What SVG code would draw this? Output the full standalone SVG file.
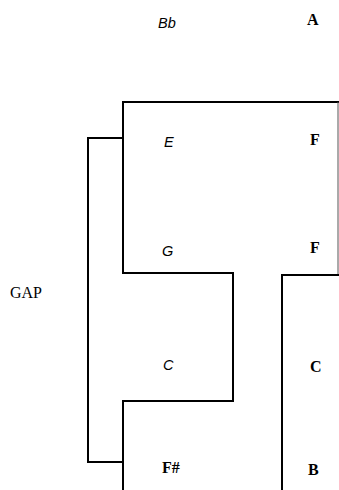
<svg xmlns="http://www.w3.org/2000/svg" width="339" height="490" viewBox="0 0 339 490">
<style>
.ln{fill:none;stroke:#000;stroke-width:2;stroke-linecap:square}
.thin{fill:none;stroke:#555;stroke-width:1}
.it{font-family:"Liberation Sans",Arial,sans-serif;font-style:italic;font-size:14.5px;fill:#000}
.sr{font-family:"Liberation Serif","Times New Roman",serif;font-size:16px;fill:#000}
.bd{font-family:"Liberation Serif","Times New Roman",serif;font-weight:bold;font-size:16px;fill:#000}
</style>
<rect width="339" height="490" fill="#fff"/>
<g id="header">
<text class="it" x="158" y="28" font-size="15.5">Bb</text>
<text class="bd" x="307" y="25">A</text>
</g>
<g id="upper-block">
<path class="ln" d="M123,490 V401 H233 V273 H123 V102 H338"/>
<path class="thin" d="M338,102 V275"/>
<text class="it" x="164" y="147">E</text>
<text class="bd" x="310" y="145">F</text>
<text class="it" x="162" y="256">G</text>
<text class="bd" x="310" y="253">F</text>
<text class="it" x="163" y="370">C</text>
<text class="bd" x="162" y="473">F#</text>
</g>
<g id="right-block">
<path class="ln" d="M282,490 V275 H338"/>
<text class="bd" x="310" y="372">C</text>
<text class="bd" x="308" y="475">B</text>
</g>
<g id="connectors">
<path class="ln" d="M123,138 H88 V462 H123"/>
</g>
<g id="gap">
<text class="sr" x="10" y="298">GAP</text>
</g>
</svg>
